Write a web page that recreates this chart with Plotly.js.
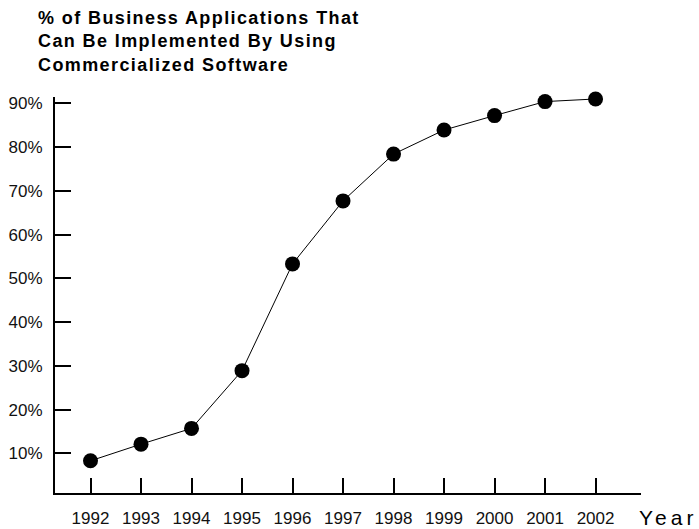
<!DOCTYPE html>
<html>
<head>
<meta charset="utf-8">
<script src="https://cdn.plot.ly/plotly-3.0.1.min.js"></script>
<style>
html,body{margin:0;padding:0;background:#fff;}
#chart{width:699px;height:529px;}
#chart .annotation[data-index="0"] text{letter-spacing:1.4px;}
#chart .annotation[data-index="1"] text{letter-spacing:4px;}
</style>
</head>
<body>
<div id="chart"></div>
<script>
const years = [1992, 1993, 1994, 1995, 1996, 1997, 1998, 1999, 2000, 2001, 2002];
const percentValues = [8.3, 12.1, 15.7, 28.9, 53.3, 67.7, 78.4, 83.9, 87.2, 90.4, 91.0];
const yTickValues = [10, 20, 30, 40, 50, 60, 70, 80, 90];
const yTickLabels = ['10%', '20%', '30%', '40%', '50%', '60%', '70%', '80%', '90%'];
const xTickLabels = years.map(String);
const titleText = '% of Business Applications That<br>Can Be Implemented By Using<br>Commercialized Software';
const xAxisLabel = 'Year';

const tickFont = {family: '"Liberation Sans", Arial, sans-serif', size: 17, color: '#111'};

const trace = {
  x: years,
  y: percentValues,
  type: 'scatter',
  mode: 'lines+markers',
  line: {color: '#000', width: 1},
  marker: {color: '#000', size: 15, symbol: 'circle'},
  cliponaxis: false,
  hoverinfo: 'x+y'
};

const layout = {
  width: 699,
  height: 529,
  paper_bgcolor: '#fff',
  plot_bgcolor: '#fff',
  showlegend: false,
  margin: {l: 55, r: 58, t: 97, b: 36},
  xaxis: {
    range: [1991.297, 2002.90],
    tickmode: 'array',
    tickvals: years,
    ticktext: xTickLabels,
    ticks: 'inside',
    ticklen: 15,
    tickwidth: 2,
    tickcolor: '#000',
    showline: true,
    linecolor: '#000',
    linewidth: 2,
    showgrid: false,
    zeroline: false,
    tickfont: tickFont,
    ticklabelstandoff: 9,
    fixedrange: true
  },
  yaxis: {
    range: [0.94, 91.45],
    tickmode: 'array',
    tickvals: yTickValues,
    ticktext: yTickLabels,
    ticks: 'inside',
    ticklen: 16,
    tickwidth: 2,
    tickcolor: '#000',
    showline: true,
    linecolor: '#000',
    linewidth: 2,
    showgrid: false,
    zeroline: false,
    tickfont: tickFont,
    ticklabelstandoff: 7,
    fixedrange: true
  },
  annotations: [{
    text: titleText,
    xref: 'paper', yref: 'paper',
    x: 0, y: 1,
    xanchor: 'left', yanchor: 'bottom',
    xshift: -19, yshift: 20,
    align: 'left',
    showarrow: false,
    font: {family: 'Arial, "Liberation Sans", sans-serif', size: 18, color: '#000', weight: 'bold'}
  }, {
    text: xAxisLabel,
    xref: 'paper', yref: 'paper',
    x: 1, y: 0,
    xanchor: 'left', yanchor: 'middle',
    xshift: 4, yshift: -24,
    showarrow: false,
    font: {family: 'Arial, "Liberation Sans", sans-serif', size: 21, color: '#000'}
  }]
};

Plotly.newPlot('chart', [trace], layout, {displayModeBar: false, staticPlot: true});
</script>
</body>
</html>
